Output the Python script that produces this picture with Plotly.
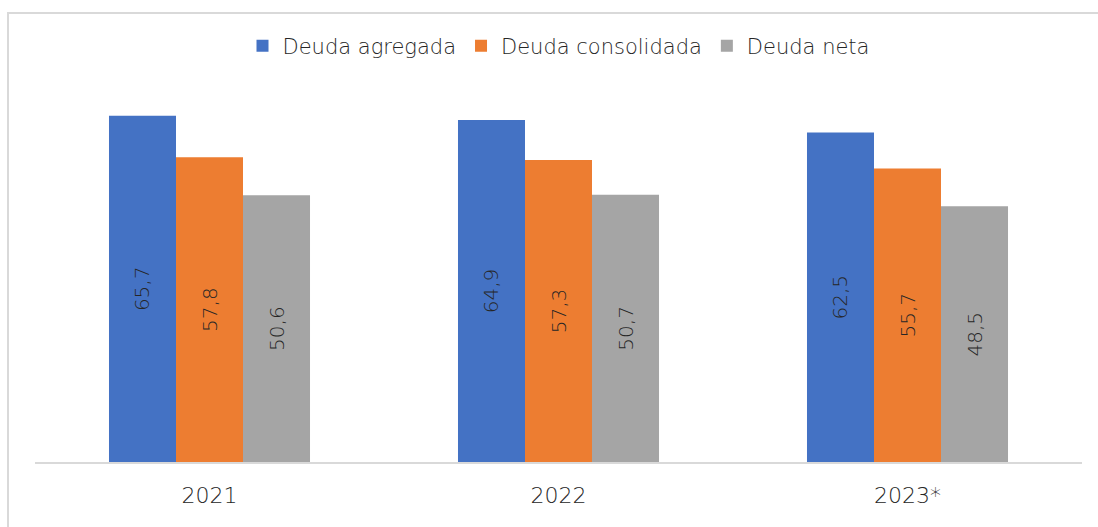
import plotly.graph_objects as go

categories = ["2021", "2022", "2023*"]
deuda_agregada = [65.7, 64.9, 62.5]
deuda_consolidada = [57.8, 57.3, 55.7]
deuda_neta = [50.6, 50.7, 48.5]

series = [
    ("Deuda agregada", deuda_agregada, "#4472C4"),
    ("Deuda consolidada", deuda_consolidada, "#ED7D31"),
    ("Deuda neta", deuda_neta, "#A5A5A5"),
]

FONT = "DejaVu Sans"
fig = go.Figure()
for name, vals, color in series:
    fig.add_trace(go.Bar(
        x=categories, y=vals, name=name,
        marker=dict(color=color, line=dict(width=0)),
        text=[f"{v:.1f}".replace(".", ",") for v in vals],
        textposition="inside", textangle=-90, insidetextanchor="middle",
        textfont=dict(family=FONT, size=20, color="#262626", weight=200),
        cliponaxis=False,
    ))

L, R, T, B = 35, 16, 93, 65
W, H = 1098, 527
pw, ph = W - L - R, H - T - B

def px_x(p):
    return (p - L) / pw

def px_y(p):
    return (H - B - p) / ph

fig.update_layout(
    width=W, height=H,
    margin=dict(l=L, r=R, t=T, b=B),
    paper_bgcolor="white", plot_bgcolor="white",
    barmode="group", bargap=0.424, bargroupgap=0,
    showlegend=True,
    legend=dict(orientation="h", x=0.5, xanchor="center", y=px_y(46), yanchor="middle",
                font=dict(family=FONT, size=21, color="#262626", weight=200),
                traceorder="normal", itemwidth=30, bgcolor="rgba(0,0,0,0)"),
    xaxis=dict(showgrid=False, showline=True, linecolor="#D9D9D9", linewidth=2,
               ticks="", ticklabelstandoff=13,
               tickfont=dict(family=FONT, size=22, color="#262626", weight=200)),
    yaxis=dict(range=[0, 70], visible=False, showgrid=False),
    shapes=[dict(type="rect", xref="paper", yref="paper",
                 x0=px_x(8), x1=px_x(1110), y0=px_y(540), y1=px_y(13),
                 line=dict(color="#D9D9D9", width=2), fillcolor="rgba(0,0,0,0)", layer="below")],
)

fig.write_html("out.html", config={"displayModeBar": False},
               post_script="document.body.style.margin='0px';document.body.style.overflow='hidden';")
